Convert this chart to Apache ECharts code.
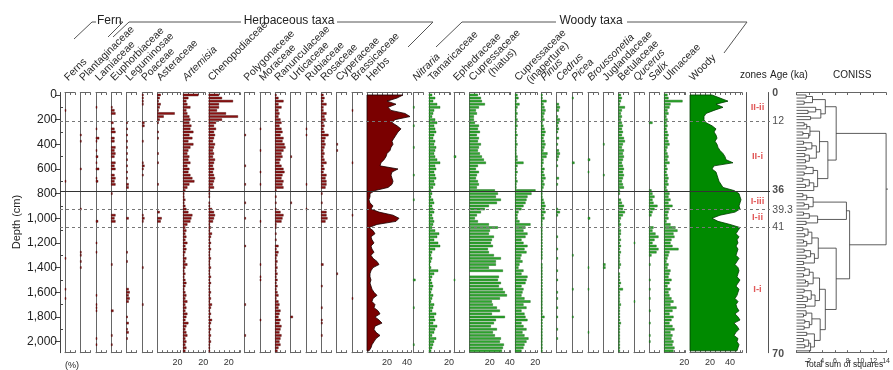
<!DOCTYPE html>
<html><head><meta charset="utf-8">
<script src="https://cdn.jsdelivr.net/npm/echarts@6/dist/echarts.min.js"></script>
<style>html,body{margin:0;padding:0;background:#fff}#c{width:893px;height:370px}</style>
</head><body><div id="c"></div>
<script>
// ---------------- DATA ----------------
const depths = [0,25,50,75,100,125,150,175,200,225,250,275,300,325,350,375,400,425,450,475,500,525,550,575,600,625,650,675,700,725,750,775,800,825,850,875,900,925,950,975,1000,1025,1050,1075,1100,1125,1150,1175,1200,1225,1250,1275,1300,1325,1350,1375,1400,1425,1450,1475,1500,1525,1550,1575,1600,1625,1650,1675,1700,1725,1750,1775,1800,1825,1850,1875,1900,1925,1950,1975,2000,2025,2050,2075];

// full series (one value per sample depth, %)
const herbs = [36,30,20,29,21,24,38,43,28,25, 30,34,31,29,27,25,26,24,23,20, 19,17,14,13,31,25,24,25,26,25, 21,8,3,3,2,3,6,4,12,26, 32,29,10,2,6,8,4,5,7,4, 5,7,4,6,10,12,6,4,3,3, 4,3,4,5,7,10,6,5,8,7, 11,13,8,12,15,8,7,9,13,9, 7,5,4,2];
const woody = [22,30,38,26,33,24,16,14,14,16, 22,26,24,26,27,25,27,28,30,33, 35,36,43,24,22,26,27,28,29,31, 33,44,49,50,51,50,49,50,45,30, 22,28,40,50,48,46,49,47,48,46, 48,47,46,49,47,45,48,49,48,47, 50,48,46,49,48,47,45,48,46,47, 49,45,48,50,44,47,49,46,44,48, 47,49,48,47];
const cupressHiatus = [8,11,12,15,9,6,7,4,4,5, 9,8,10,7,9,8,11,9,8,10, 12,14,16,8,6,9,7,6,8,9, 7,25,28,26,31,27,19,15,11,7, 5,8,19,28,20,19,24,22,21,23, 18,19,24,31,26,26,19,33,0,29, 28,31,29,33,35,37,30,22,23,27, 30,22,35,26,24,21,27,23,25,31, 30,34,33,32];
const cupressInap = [2,3,1,4,2,1,2,1,2,1, 2,1,1,2,1,1,2,1,1,1, 2,2,8,2,1,2,1,1,2,1, 1,20,16,12,11,10,8,6,3,2, 2,4,15,10,8,12,10,6,8,12, 9,11,6,5,7,4,3,8,6,12, 11,10,6,8,7,6,9,15,8,11, 6,9,10,12,6,8,11,7,9,13, 11,9,8,6];
const tamaricaceae = [3,6,4,8,11,5,4,3,6,8, 5,6,7,5,4,6,5,7,6,5, 6,8,11,6,7,5,6,7,5,6, 4,2,3,2,4,5,3,4,5,3, 4,5,4,3,6,10,8,5,9,11, 6,3,2,3,2,1,2,9,5,3, 2,3,4,3,2,4,3,2,5,4, 3,7,5,6,4,8,6,5,3,7, 5,4,3,2];
const ulmaceae = [3,4,18,6,5,3,4,2,3,2, 3,2,3,4,3,4,5,3,2,3, 4,3,5,2,3,2,3,4,3,4, 2,3,5,4,6,4,8,5,4,3, 4,2,6,11,13,9,10,7,6,8, 14,5,4,3,2,4,3,6,5,4, 7,5,3,6,4,5,7,9,6,12, 8,5,9,7,5,8,10,6,8,7, 9,8,10,9];
const betulaceae = [2,3,2,1,6,3,2,3,2,3, 4,3,4,3,5,6,4,3,5,4, 5,4,3,4,5,4,5,4,3,4, 5,1,1,0,2,3,5,4,6,4, 2,1,2,1,2,2,1,2,1,2, 1,2,1,1,1,2,1,0,1,1, 1,2,1,4,1,1,1,1,2,1, 1,1,1,1,2,1,1,1,1,1, 1,1,1,1];
const pinus = [1,1,5,2,3,4,3,2,3,1, 2,3,4,3,2,3,4,3,2,6, 5,2,2,1,3,2,3,4,2,3, 2,1,1,1,2,3,4,3,4,2, 3,1,1,1,1,1,1,1,1,1, 1,1,1,1,0,1,1,1,1,1, 1,1,1,1,1,1,1,1,1,1, 1,1,3,1,1,1,1,1,1,1, 1,1,1,1];
const artemisia = [15,5,3,4,7,3,4,6,7,6, 8,7,10,6,9,5,10,7,5,4, 6,5,7,4,6,5,7,9,11,6, 4,2,1,1,2,1,2,3,5,9, 8,7,4,2,3,2,3,2,4,2, 3,2,1,3,2,4,2,1,2,1, 2,3,2,1,2,3,2,4,2,3, 2,4,3,2,5,3,2,3,4,2, 3,2,3,2];
const chenopodiaceae = [10,13,24,10,10,8,17,29,13,7, 5,7,5,6,5,4,6,5,4,5, 4,6,5,4,5,4,5,6,5,4, 5,1,1,1,0,1,1,3,5,6, 5,4,1,2,1,3,2,1,2,1, 2,1,1,2,1,1,2,1,1,2, 1,2,1,1,2,1,2,1,3,2, 1,2,1,3,2,1,2,1,2,1, 2,1,1,1];
const ranunculaceae = [1,3,8,3,6,3,4,3,5,6, 4,6,7,5,8,7,9,10,8,6, 7,5,4,6,8,9,7,6,8,7, 8,1,0,1,0,1,0,1,5,8, 7,6,1,1,0,1,0,1,0,3, 1,3,2,1,2,1,2,1,2,1, 2,1,2,1,2,3,1,3,4,3, 5,4,3,5,4,6,5,4,6,5, 4,5,3,2];
const rosaceae = [2,3,2,5,2,2,5,3,4,2, 3,2,3,7,4,3,4,3,2,3, 2,3,5,2,3,2,5,4,5,5, 4,0,1,0,0,1,0,0,5,5, 6,4,0,0,0,0,0,0,0,0, 0,0,0,0,0,2,0,0,0,0, 0,0,1,0,0,0,0,0,0,1, 0,0,0,1,1,0,0,0,1,0, 0,0,0,0];

// sparse series: [depth (cm), value (%)]
const ferns = [[125,1],[700,1],[1325,1],[1575,1],[1650,1]];
const plantaginaceae = [[325,1],[375,1],[600,1],[925,1],[1275,1],[1300,1],[1350,1],[1400,1]];
const lamiaceae = [[100,1],[275,1],[350,3],[375,1],[450,1],[500,2],[550,1],[600,3],[675,1],[700,2],[1025,2],[1200,1],[1275,1],[1625,1],[1700,1],[1725,1],[1750,1],[1975,1],[2025,1]];
const euphorbiaceae = [[100,1],[125,3],[150,4],[225,2],[275,3],[300,4],[350,3],[375,3],[425,4],[450,3],[475,4],[500,3],[550,4],[575,3],[600,4],[650,3],[675,4],[700,3],[725,4],[800,1],[975,4],[1000,3],[1025,4],[1375,1],[1750,2],[1950,1],[2025,1]];
const leguminosae = [[225,1],[275,1],[325,1],[375,1],[425,1],[475,1],[525,1],[575,1],[625,1],[675,1],[725,2],[750,2],[1000,2],[1275,1],[1350,1],[1575,2],[1600,3],[1625,2],[1650,3],[1675,2],[1800,1],[1850,2],[1900,1],[1925,2],[1975,1]];
const poaceae = [[0,1],[25,1],[50,1],[75,1],[225,2],[250,2],[375,1],[550,1],[575,2],[600,1],[650,1],[975,1],[1000,2],[1025,1],[1400,1],[1700,1]];
const asteraceae = [[0,3],[25,2],[50,1],[75,3],[100,2],[125,1],[150,17],[175,6],[200,2],[225,1],[300,1],[350,1],[475,1],[550,1],[725,1],[950,2],[1000,4],[1025,3]];
const polygonaceae = [[325,1],[575,1],[725,1],[875,1],[1000,1],[1225,1],[1700,1],[1950,1]];
const moraceae = [[275,1],[450,1],[625,1],[725,1],[1025,1],[1375,1],[1475,1],[1500,1],[1825,1]];
const urticaceae = [[500,1],[875,1],[1800,2]];
const rubiaceae = [[275,1],[325,1],[725,1],[925,1]];
const cyperaceae = [[400,1],[450,1],[1450,1]];
const brassicaceae = [[125,1],[550,1],[975,1],[1650,1]];
const nitraria = [[100,1],[250,1],[425,1],[650,1],[850,1],[1500,2],[1725,1],[2025,1]];
const ephedraceae = [[500,2],[1500,1]];
const cedrus = [[75,2],[100,3],[125,2],[175,1],[200,3],[225,2],[250,1],[275,2],[300,1],[350,2],[400,1],[450,2],[475,3],[500,2],[525,1],[575,1],[675,2],[725,1],[925,1],[950,3],[975,1],[1150,1],[1250,1],[1325,1],[1425,1],[1500,1],[1600,1],[1650,1],[1725,1],[1800,1],[1900,1],[1975,1]];
const picea = [[25,1],[550,2],[1300,1],[1575,1],[1800,1]];
const broussonetia = [[525,2],[625,1],[1000,2],[1400,1],[1575,1],[1925,1]];
const juglandaceae = [[400,1],[650,1],[1375,2],[1400,2]];
const qucerus = [[1200,1],[1675,1]];
const salix = [[225,3],[775,2],[800,3],[825,5],[850,3],[875,4],[900,8],[925,5],[950,3],[975,2],[1075,4],[1100,3],[1125,6],[1150,9],[1175,5],[1200,3],[1225,7],[1250,9],[1275,7],[1300,2],[1375,1],[1500,1],[1575,1],[1650,1],[1750,1],[1850,1],[1950,1],[2000,1]];

// zones, ages, CONISS
const zoneBoundaries = [210, 780, 930, 1070];
const zoneBoundarySolid = [false, true, false, false];
const zoneNames = ['II-ii', 'II-i', 'I-iii', 'I-ii', 'I-i'];
const zoneCentres = [100, 500, 860, 995, 1575];
const ageLabels = ['0', '12', '36', '39.3', '41', '70'];
const ageDepths = [-15, 210, 770, 930, 1070, 2105];
const ageBold = [true, false, true, false, false, true];
const depthLabelTicks = [0,200,400,600,800,1000,1200,1400,1600,1800,2000];
const depthMinorTicks = [100,300,500,700,900,1100,1300,1500,1700,1900];
// CONISS: merge height (total sum of squares) between adjacent samples i and i+1
const conissHeights = [1.5,2.5,1.2,4.5,3.0,1.8,3.8,2.2,6.2,1.2, 1.6,2.1,1.0,1.9,3.6,1.1,2.4,1.5,3.1,1.3, 2.0,1.4,4.9,1.5,2.6,1.2,3.3,1.0,2.0,1.4, 2.7,14.0,1.0,1.6,2.6,1.2,1.9,7.8,1.1,2.0, 3.3,1.5,8.3,1.0,1.8,1.3,2.4,1.1,1.6,3.4, 1.2,2.2,1.5,2.8,1.1,6.2,1.3,2.0,1.1,2.6, 1.4,1.8,3.6,1.2,2.3,1.0,1.7,2.9,1.4,4.5, 1.5,1.1,2.4,1.3,2.0,1.2,3.7,1.6,2.8,1.1, 1.9,1.3,2.2];

// ---------------- LAYOUT ----------------
const FONT = 'Liberation Sans, Arial, Helvetica, sans-serif';
const K = 1.0, TOP = 92.5, H = 260.2, YMIN = -20, YMAX = 2090;
const HERB = {fill:'#8e1212', stroke:'#3d0000'};
const WOOD = {fill:'#2ea82e', stroke:'#0a5a0a'};
const panels = [
  {name:'Ferns', x:65, max:10, data:ferns, c:HERB},
  {name:'Plantaginaceae', x:80.3, max:10, data:plantaginaceae, c:HERB},
  {name:'Lamiaceae', x:96, max:10, data:lamiaceae, c:HERB},
  {name:'Euphorbiaceae', x:111.3, max:10, data:euphorbiaceae, c:HERB},
  {name:'Leguminosae', x:126.5, max:10, data:leguminosae, c:HERB},
  {name:'Poaceae', x:142.3, max:10, data:poaceae, c:HERB},
  {name:'Asteraceae', x:157.5, max:23, data:asteraceae, c:HERB, labels:[20]},
  {name:'Artemisia', x:183.2, max:22, data:artemisia, c:HERB, labels:[20], it:true},
  {name:'Chenopodiaceae', x:208.8, max:31, data:chenopodiaceae, c:HERB, labels:[20]},
  {name:'Polygonaceae', x:244.7, max:10, data:polygonaceae, c:HERB},
  {name:'Moraceae', x:260, max:10, data:moraceae, c:HERB},
  {name:'Ranunculaceae', x:275.3, max:10, data:ranunculaceae, c:HERB},
  {name:'Urticaceae', x:290.7, max:10, data:urticaceae, c:HERB},
  {name:'Rubiaceae', x:306, max:10, data:rubiaceae, c:HERB},
  {name:'Rosaceae', x:321.3, max:10, data:rosaceae, c:HERB},
  {name:'Cyperaceae', x:336.7, max:10, data:cyperaceae, c:HERB},
  {name:'Brassicaceae', x:352, max:10, data:brassicaceae, c:HERB},
  {name:'Herbs', x:367, max:44, data:herbs, c:{fill:'#7a0000', stroke:'#1a0000'}, labels:[20,40], area:true},
  {name:'Nitraria', x:413.3, max:10, data:nitraria, c:WOOD, it:true},
  {name:'Tamaricaceae', x:429, max:21, data:tamaricaceae, c:WOOD, labels:[20]},
  {name:'Ephedraceae', x:454, max:10, data:ephedraceae, c:WOOD},
  {name:'Cupressaceae', sub:'(hiatus)', x:469.7, max:41, data:cupressHiatus, c:WOOD, labels:[20,40]},
  {name:'Cupressaceae', sub:'(inaperture)', x:515.3, max:22, data:cupressInap, c:WOOD, labels:[20]},
  {name:'Pinus', x:541.3, max:10, data:pinus, c:WOOD, it:true},
  {name:'Cedrus', x:556.7, max:10, data:cedrus, c:WOOD, it:true},
  {name:'Picea', x:572.3, max:10, data:picea, c:WOOD, it:true},
  {name:'Broussonetia', x:588, max:10, data:broussonetia, c:WOOD, it:true},
  {name:'Juglandaceae', x:603.3, max:10, data:juglandaceae, c:WOOD},
  {name:'Betulaceae', x:618.7, max:10, data:betulaceae, c:WOOD},
  {name:'Qucerus', x:634, max:10, data:qucerus, c:WOOD, it:true},
  {name:'Salix', x:649.3, max:10, data:salix, c:WOOD, it:true},
  {name:'Ulmaceae', x:664.3, max:21, data:ulmaceae, c:WOOD, labels:[20]},
  {name:'Woody', x:690, max:52, data:woody, c:{fill:'#008a00', stroke:'#003d00'}, labels:[20,40], area:true}
];

const option = {animation:false, grid:[], xAxis:[], yAxis:[], series:[], graphic:[]};

function toItems(src){
  if (typeof src[0] === 'number') return depths.map((d,i)=>[src[i], d]);
  return src.map(e=>[e[1], e[0]]);
}
function depthAxis(gi, extra){
  return Object.assign({gridIndex:gi, type:'value', inverse:true, min:YMIN, max:YMAX,
    axisLine:{show:true, onZero:false, lineStyle:{color:'#666', width:1}},
    axisTick:{show:false}, axisLabel:{show:false}, splitLine:{show:false}}, extra||{});
}
function valAxis(gi, max, interval, pos, labels, fs){
  return {gridIndex:gi, type:'value', min:0, max:max, interval:interval, position:pos,
    axisLine:{show:true, onZero:false, lineStyle:{color:'#666', width:1}},
    axisTick:{show:true, inside:true, length:2.5, lineStyle:{color:'#666'}},
    axisLabel:{show:pos==='bottom', fontSize:fs||9, color:'#333', fontFamily:FONT, margin:5,
      formatter:v => (labels||[]).indexOf(v) >= 0 ? String(v) : ''},
    splitLine:{show:false}};
}
function addGrid(left, width){
  option.grid.push({left:left, top:TOP, width:width, height:H});
  return option.grid.length - 1;
}

// overlay grid: depth axis + zone boundary lines
{
  const gi = addGrid(60, 710);
  option.xAxis.push({gridIndex:gi, type:'value', min:0, max:1, show:false});
  const xi = option.xAxis.length - 1;
  option.yAxis.push(depthAxis(gi, {
    axisLine:{show:true, onZero:false, lineStyle:{color:'#444'}},
    axisTick:{show:true, length:5, customValues:depthLabelTicks, lineStyle:{color:'#444'}},
    axisLabel:{show:true, customValues:depthLabelTicks, fontSize:12, color:'#222', fontFamily:FONT, margin:3}
  }));
  const yi = option.yAxis.length - 1;
  option.yAxis.push(depthAxis(gi, {
    axisLine:{show:false},
    axisTick:{show:true, length:3, customValues:depthMinorTicks, lineStyle:{color:'#444'}}
  }));
  option.series.push({type:'scatter', xAxisIndex:xi, yAxisIndex:yi, data:[], z:10,
    markLine:{silent:true, symbol:'none', label:{show:false}, animation:false,
      data: zoneBoundaries.map((d,i)=>({yAxis:d,
        lineStyle: zoneBoundarySolid[i] ? {type:'solid', color:'#333', width:1} : {type:[3,3], color:'#777', width:1}}))}});
}

// taxa panels
panels.forEach(p => {
  const gi = addGrid(p.x, p.max*K);
  option.xAxis.push(valAxis(gi, p.max, 5, 'bottom', p.labels));
  const xi = option.xAxis.length - 1;
  option.xAxis.push(valAxis(gi, p.max, 5, 'top', []));
  option.yAxis.push(depthAxis(gi));
  const yi = option.yAxis.length - 1;
  const items = toItems(p.data);
  if (p.area) {
    const vals = p.data;
    option.series.push({type:'custom', xAxisIndex:xi, yAxisIndex:yi, data:items, z:2, silent:true,
      renderItem:(params, api) => {
        if (params.dataIndex !== 0) return null;
        const pts = [api.coord([0, depths[0]])];
        depths.forEach((d,i) => pts.push(api.coord([vals[i], d])));
        pts.push(api.coord([0, depths[depths.length-1]]));
        return {type:'polygon', shape:{points:pts}, style:{fill:p.c.fill, stroke:p.c.stroke, lineWidth:0.8}};
      }});
  } else {
    option.series.push({type:'custom', xAxisIndex:xi, yAxisIndex:yi, data:items, z:2, silent:true,
      renderItem:(params, api) => {
        const v = api.value(0), d = api.value(1);
        if (!(v > 0)) return null;
        const a = api.coord([0, d]), b = api.coord([v, d]);
        return {type:'rect', shape:{x:a[0], y:a[1]-1, width:Math.max(b[0]-a[0], 0.8), height:2},
          style:{fill:p.c.fill, stroke:p.c.stroke, lineWidth:0.4}};
      }});
  }
  // rotated taxon label
  const lx = p.x + 5, ly = 83;
  option.graphic.push({type:'text', x:lx, y:ly, rotation:Math.PI/4, silent:true,
    style:{text:p.name, fontSize:10.5, fontFamily:FONT, fill:'#2a2a2a', fontStyle:p.it?'italic':'normal', align:'left', verticalAlign:'bottom'}});
  if (p.sub) {
    const along = (68 - (p.sub === '(hiatus)' ? 35 : 55)) / 2, perp = 10.5;
    option.graphic.push({type:'text', x:lx + along*0.707 + perp*0.707, y:ly - along*0.707 + perp*0.707, rotation:Math.PI/4, silent:true,
      style:{text:p.sub, fontSize:10.5, fontFamily:FONT, fill:'#2a2a2a', align:'left', verticalAlign:'bottom'}});
  }
});

// zones column
{
  const gi = addGrid(746.7, 21.6);
  option.xAxis.push({gridIndex:gi, type:'value', min:0, max:1, show:false});
  const xi = option.xAxis.length - 1;
  option.yAxis.push(depthAxis(gi, {axisLine:{show:true, onZero:false, lineStyle:{color:'#555'}}}));
  const yi = option.yAxis.length - 1;
  option.series.push({type:'scatter', xAxisIndex:xi, yAxisIndex:yi, symbolSize:0, silent:true, clip:false,
    data: zoneNames.map((n,i)=>({value:[0.5, zoneCentres[i]], name:n})),
    label:{show:true, position:'inside', formatter:'{b}', color:'#d93030', fontSize:9.5, fontWeight:'bold', fontFamily:FONT}});
}
// age column
{
  const gi = addGrid(768.3, 24);
  option.xAxis.push({gridIndex:gi, type:'value', min:0, max:1, show:false});
  const xi = option.xAxis.length - 1;
  option.yAxis.push(depthAxis(gi, {axisLine:{show:true, onZero:false, lineStyle:{color:'#555'}}}));
  const yi = option.yAxis.length - 1;
  option.series.push({type:'scatter', xAxisIndex:xi, yAxisIndex:yi, symbolSize:0, silent:true, clip:false,
    data: ageLabels.map((a,i)=>({value:[0, ageDepths[i]], name:a, label:{fontWeight: ageBold[i] ? 'bold' : 'normal'}})),
    label:{show:true, position:'right', distance:4, formatter:'{b}', color:'#222', fontSize:10.5, fontFamily:FONT}});
}
// CONISS dendrogram
{
  const gi = addGrid(796.5, 95);
  option.xAxis.push(valAxis(gi, 14, 2, 'bottom', [2,4,6,8,10,12,14], 7));
  const xi = option.xAxis.length - 1;
  option.xAxis.push(valAxis(gi, 14, 2, 'top', []));
  option.yAxis.push(depthAxis(gi, {axisLine:{show:false}}));
  const yi = option.yAxis.length - 1;
  const segs = [];
  function build(lo, hi){
    if (lo === hi) return {h:0, y:depths[lo]};
    let k = lo;
    for (let j = lo; j < hi; j++) if (conissHeights[j] > conissHeights[k]) k = j;
    const L = build(lo, k), R = build(k+1, hi), h = conissHeights[k];
    segs.push([[L.h, L.y], [h, L.y], [h, R.y], [R.h, R.y]]);
    return {h:h, y:(L.y + R.y)/2};
  }
  const root = build(0, depths.length - 1);
  segs.push([[root.h, root.y], [root.h + 0.6, root.y]]);
  option.series.push({type:'lines', coordinateSystem:'cartesian2d', xAxisIndex:xi, yAxisIndex:yi, polyline:true, silent:true, z:3,
    lineStyle:{color:'#333', width:0.8, opacity:1},
    data: segs.map(c => ({coords:c}))});
}

// headers and group brackets
const G = option.graphic;
function txt(t, x, y, fs, align, extra){
  G.push(Object.assign({type:'text', x:x, y:y, silent:true,
    style:{text:t, fontSize:fs, fontFamily:FONT, fill:'#222', align:align||'left', verticalAlign:'middle'}}, extra||{}));
}
function pl(points){
  G.push({type:'polyline', silent:true, shape:{points:points}, style:{stroke:'#555', lineWidth:1, fill:null}});
}
pl([[74,39],[92,22],[96,22]]);
txt('Fern', 97, 21, 12);
pl([[119,22],[123,22],[108,37]]);
pl([[113,37],[129,22],[241,22]]);
txt('Herbaceous taxa', 289, 21, 12, 'center');
pl([[337,22],[433,22],[408,47]]);
pl([[436,47],[462,22],[556,22]]);
txt('Woody taxa', 591, 21, 12, 'center');
pl([[627,22],[747,22],[724,53]]);
txt('zones', 740, 75, 10);
txt('Age (ka)', 770, 75, 10);
txt('CONISS', 833, 75, 10);
txt('Depth (cm)', 17, 222, 11, 'center', {rotation:Math.PI/2});
txt('(%)', 65, 366, 9);
txt('Total sum of squares', 844, 365, 8.5, 'center');

const chart = echarts.init(document.getElementById('c'), null, {renderer:'canvas'});
chart.setOption(option);
</script>
</body></html>
